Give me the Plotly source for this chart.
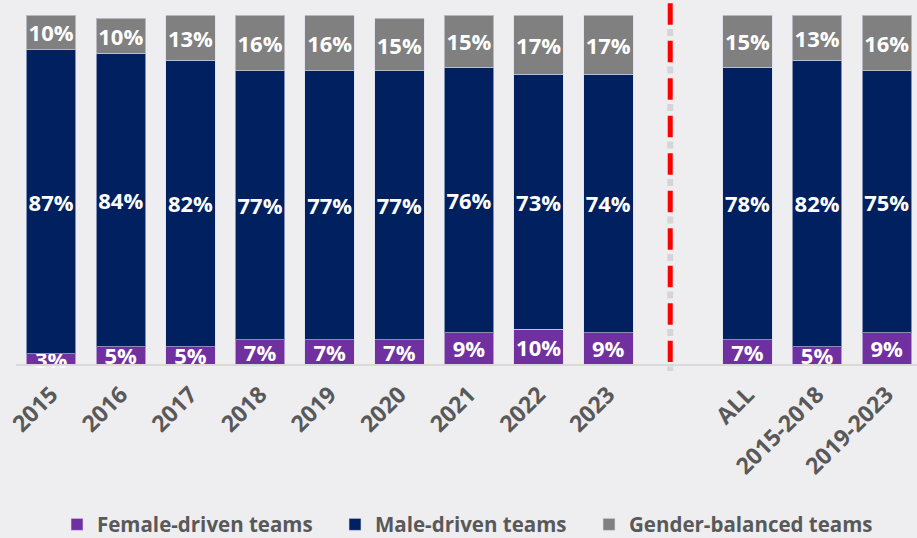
import plotly.graph_objects as go

# Team composition by year and by period (percent of teams)
categories = ["2015", "2016", "2017", "2018", "2019", "2020", "2021", "2022", "2023",
              " ", "ALL", "2015-2018", "2019-2023"]
female = [3, 5, 5, 7, 7, 7, 9, 10, 9, None, 7, 5, 9]
male = [87, 84, 82, 77, 77, 77, 76, 73, 74, None, 78, 82, 75]
balanced = [10, 10, 13, 16, 16, 15, 15, 17, 17, None, 15, 13, 16]

series = [
    ("Female-driven teams", female, "#7030a0", "legend"),
    ("Male-driven teams", male, "#002060", "legend2"),
    ("Gender-balanced teams", balanced, "#808080", "legend3"),
]

BG = "#eeeef0"
TEXT_GREY = "#595959"
FONT = "Open Sans"

fig = go.Figure()
for name, vals, color, leg in series:
    fig.add_trace(go.Bar(
        name=name,
        x=categories,
        y=vals,
        legend=leg,
        marker=dict(color=color, line=dict(color="rgba(220,220,235,0.6)", width=1)),
        texttemplate="<b>%{y}%</b>",
        textposition="inside",
        insidetextanchor="middle",
        textangle=0,
        textfont=dict(color="white", size=22, family=FONT),
        cliponaxis=False,
        hoverinfo="skip",
    ))

# Separator between yearly bars and period aggregates
sep_x = 8.89
fig.add_shape(type="line", xref="x", yref="paper",
              x0=sep_x, x1=sep_x, y0=1.0335 - 25.75 / 349, y1=-0.02,
              line=dict(color="rgba(0,0,0,0.10)", width=6, dash="7px,30.5px"))
fig.add_shape(type="line", xref="x", yref="paper",
              x0=sep_x, x1=sep_x, y0=1.0335, y1=0.0057,
              line=dict(color="#ff0000", width=5, dash="21.5px,16px"))


def legend_box(left_px):
    # one legend per series so each entry sits at its own spot along the bottom
    return dict(
        orientation="h",
        x=(left_px - 16) / 901, xanchor="left",
        y=-0.46, yanchor="middle",
        font=dict(family=FONT, size=20.5, color=TEXT_GREY, weight="bold"),
        itemclick=False,
        itemdoubleclick=False,
        bgcolor="rgba(0,0,0,0)",
    )


fig.update_layout(
    barmode="stack",
    bargap=0.289,
    width=917,
    height=538,
    margin=dict(l=16, r=0, t=15, b=174, autoexpand=False),
    paper_bgcolor=BG,
    plot_bgcolor=BG,
    uniformtext=dict(minsize=22, mode="show"),
    showlegend=True,
    legend=legend_box(57),
    legend2=legend_box(335),
    legend3=legend_box(589),
    xaxis=dict(
        type="category",
        range=[-0.5055, 12.434],
        tickangle=-45,
        tickfont=dict(family=FONT, size=23, color=TEXT_GREY, weight="bold"),
        ticklabelstandoff=6,
        automargin=False,
        showline=True,
        linecolor="#d9d9d9",
        linewidth=2,
        showgrid=False,
        ticks="",
        zeroline=False,
    ),
    yaxis=dict(
        range=[0, 100],
        visible=False,
        showgrid=False,
        zeroline=False,
        automargin=False,
    ),
)

fig.write_html("out.html")
